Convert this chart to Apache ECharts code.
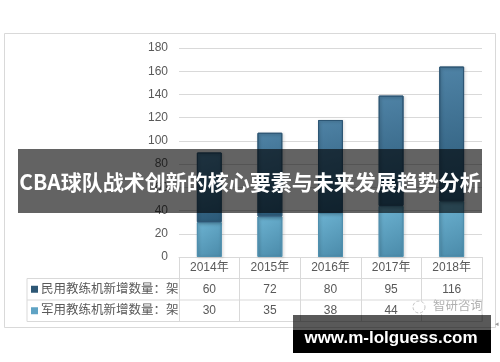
<!DOCTYPE html>
<html>
<head>
<meta charset="utf-8">
<script src="https://cdn.jsdelivr.net/npm/echarts@6/dist/echarts.min.js"></script>
<style>
  html, body { margin: 0; padding: 0; background: #fff; }
  #main { width: 500px; height: 362px; }
</style>
</head>
<body>
<div id="main"></div>
<script>
// 데이터
const years = ['2014年', '2015年', '2016年', '2017年', '2018年'];
const civilLabel = '民用教练机新增数量：架';
const militaryLabel = '军用教练机新增数量：架';
const civil = [60, 72, 80, 95, 116];
const military = [30, 35, 38, 44, 48];
const yTicks = { min: 0, max: 180, step: 20 };

const FONT = '"Liberation Sans", "Noto Sans CJK SC", sans-serif';
const LINE = '#d9d9d9';
const TXT = '#595959';

const chart = echarts.init(document.getElementById('main'));

function grad(c1, c2) {
    return new echarts.graphic.LinearGradient(0, 0, 1, 1, [
        { offset: 0, color: c1 }, { offset: 1, color: c2 }
    ]);
}

const ROW = 21.5; // 표 행 높이

const option = {
    animation: false,
    backgroundColor: '#fff',
    grid: { left: 179, right: 18, top: 48, bottom: 105 },
    xAxis: [
        {
            type: 'category', data: years, position: 'bottom',
            axisLine: { lineStyle: { color: LINE } },
            axisTick: { show: true, length: ROW * 3, lineStyle: { color: LINE } },
            axisLabel: { color: TXT, fontSize: 12, fontFamily: FONT, margin: 5 }
        },
        {
            type: 'category', data: years, position: 'bottom', offset: ROW,
            axisLine: { show: false }, axisTick: { show: false },
            axisLabel: { color: TXT, fontSize: 12, fontFamily: FONT, margin: 5,
                formatter: (v, i) => String(civil[i]) }
        },
        {
            type: 'category', data: years, position: 'bottom', offset: ROW * 2,
            axisLine: { show: false }, axisTick: { show: false },
            axisLabel: { color: TXT, fontSize: 12, fontFamily: FONT, margin: 5,
                formatter: (v, i) => String(military[i]) }
        }
    ],
    yAxis: {
        type: 'value', min: yTicks.min, max: yTicks.max, interval: yTicks.step,
        axisLine: { show: false }, axisTick: { show: false },
        axisLabel: { color: TXT, fontSize: 12, fontFamily: FONT, margin: 11 },
        splitLine: { lineStyle: { color: LINE, width: 1 } }
    },
    series: [
        {
            name: militaryLabel, type: 'bar', stack: 'a', data: military, barWidth: '41%',
            itemStyle: {
                color: grad('#6db3d2', '#4a8aa9'),
                borderColor: '#4f8fae', borderWidth: 1,
                shadowColor: 'rgba(0,0,0,0.25)', shadowBlur: 3, shadowOffsetX: 1, shadowOffsetY: 1
            }
        },
        {
            name: civilLabel, type: 'bar', stack: 'a', data: civil, barWidth: '41%',
            itemStyle: {
                color: grad('#4f83a6', '#2a5876'),
                borderColor: '#2d5674', borderWidth: 1,
                shadowColor: 'rgba(0,0,0,0.25)', shadowBlur: 3, shadowOffsetX: 1, shadowOffsetY: 1
            }
        }
    ]
};
chart.setOption(option);

// 표, 테두리, 오버레이
function drawExtras() {
    const y0 = chart.convertToPixel({ yAxisIndex: 0 }, 0);
    const xR = chart.convertToPixel({ xAxisIndex: 0 }, years.length - 1) + 30.3;
    const tl = 27;
    const g = [];
    const line = (x1, y1, x2, y2) => g.push({ type: 'line', shape: { x1, y1, x2, y2 }, z: 52,
        style: { stroke: LINE, lineWidth: 1 }, silent: true });

    // 바깥 테두리
    g.push({ type: 'rect', shape: { x: 4.5, y: 33.5, width: 491, height: 294 },
        style: { fill: null, stroke: LINE, lineWidth: 1 }, z: -1 });

    for (let r = 1; r <= 3; r++) line(tl, y0 + ROW * r, xR, y0 + ROW * r);
    line(tl, y0 + ROW, tl, y0 + ROW * 3);
    // 로고 위로 보이는 세로선
    line(xR, y0 + ROW * 2, xR, y0 + ROW * 3);

    const legendRows = [[civilLabel, '#2d5775'], [militaryLabel, '#5fa3c4']];
    legendRows.forEach(([txt, col], i) => {
        const cy = y0 + ROW * (i + 1.5);
        g.push({ type: 'rect', shape: { x: 31, y: cy - 3.5, width: 7, height: 7 },
            style: { fill: col } });
        g.push({ type: 'text', x: 41, y: cy, style: { text: txt, fill: TXT, fontSize: 12.5,
            fontFamily: FONT, verticalAlign: 'middle', textAlign: 'left' } });
    });

    // 로고 (흰 바탕)
    g.push({ type: 'rect', shape: { x: 408, y: 301, width: 76, height: 13 },
        style: { fill: '#fff' }, z: 50 });
    g.push({ type: 'circle', shape: { cx: 419, cy: 307, r: 6 }, z: 51,
        style: { fill: null, stroke: '#c4c4c4', lineWidth: 1, lineDash: [3, 2] } });
    g.push({ type: 'text', x: 433, y: 307, z: 51, style: { text: '智研咨询', fill: '#b0b0b0',
        fontSize: 12.5, fontFamily: FONT, verticalAlign: 'middle' } });
    g.push({ type: 'text', x: 497, y: 324, z: 51, style: { text: '◂', fill: '#999',
        fontSize: 7, fontFamily: FONT, verticalAlign: 'middle', textAlign: 'center' } });

    // 제목 배너
    g.push({ type: 'rect', shape: { x: 18, y: 149, width: 464, height: 64 },
        style: { fill: 'rgba(0,0,0,0.61)' }, z: 100 });
    g.push({ type: 'text', x: 250, y: 182, z: 101, style: {
        text: 'CBA球队战术创新的核心要素与未来发展趋势分析', fill: '#fff',
        fontSize: 21, fontWeight: 'bold', fontFamily: '"Noto Sans CJK SC", sans-serif',
        textAlign: 'center', verticalAlign: 'middle' } });

    // 워터마크
    g.push({ type: 'rect', shape: { x: 293, y: 315, width: 198, height: 38 },
        style: { fill: 'rgba(0,0,0,0.65)' }, z: 100 });
    g.push({ type: 'rect', shape: { x: 293, y: 330, width: 198, height: 23 },
        style: { fill: '#000' }, z: 100 });
    g.push({ type: 'text', x: 391, y: 338, z: 101, style: {
        text: 'www.m-lolguess.com', fill: '#fff', fontSize: 17, fontWeight: 'bold',
        fontFamily: '"Liberation Sans", sans-serif', textAlign: 'center', verticalAlign: 'middle' } });

    chart.setOption({ graphic: g });
}
drawExtras();
</script>
</body>
</html>
